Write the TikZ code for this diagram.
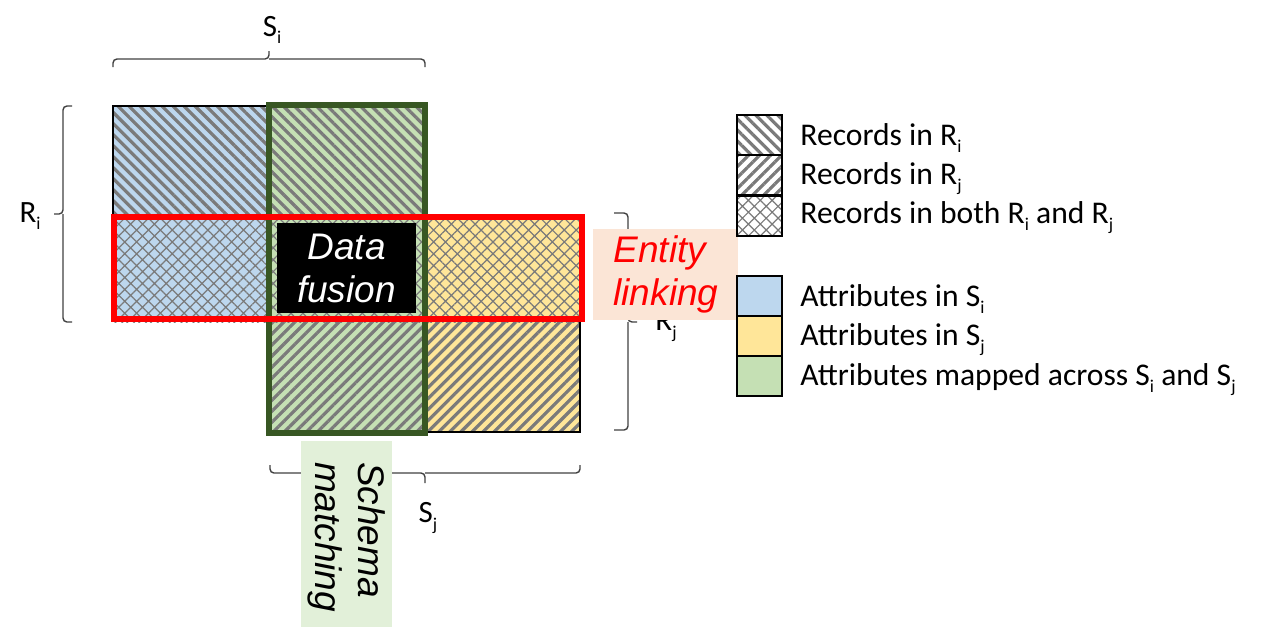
\documentclass[tikz,border=0pt]{standalone}
\usepackage{fontspec}
\setmainfont{Carlito}
\newfontfamily\arialfont{Liberation Sans}
\usetikzlibrary{patterns.meta}

\definecolor{attrblue}{HTML}{BDD7EE}
\definecolor{attryellow}{HTML}{FFE699}
\definecolor{attrgreen}{HTML}{C5E0B4}
\definecolor{schemagreen}{HTML}{385723}
\definecolor{linkpeach}{HTML}{FBE5D6}
\definecolor{matchgreen}{HTML}{E2F0D9}
\definecolor{bracegray}{HTML}{404040}
\definecolor{hatchgray}{HTML}{7A7A7A}

% low, small index as in R_i
\newcommand\lowidx[1]{\raisebox{-3.6pt}{\fontsize{9}{9}\selectfont #1}}

\tikzset{
  recI/.style={pattern={Lines[angle=-45,distance=3.9pt,line width=1.6pt]},pattern color=hatchgray},
  recJ/.style={pattern={Lines[angle=45,distance=3.9pt,line width=1.6pt]},pattern color=hatchgray},
  recIJ/.style={pattern={Hatch[angle=45,distance=4.2pt,line width=0.6pt]},pattern color=hatchgray},
  bracepath/.style={draw=bracegray,line width=0.7pt,rounded corners=2pt},
  dimlabel/.style={font=\fontsize{15.5}{18}\selectfont,inner sep=0pt},
  taskfont/.style={font=\arialfont\itshape\fontsize{18.5}{21.5}\selectfont},
  legbox/.style={draw=black,line width=1pt,minimum width=22.5pt,minimum height=20pt,inner sep=0pt},
  legtext/.style={anchor=base west,inner sep=0pt,font=\fontsize{15.8}{18}\selectfont}
}

\begin{document}
\begin{tikzpicture}[x=0.5pt,y=-0.5pt]
    \useasboundingbox (0,0) rectangle (1262,628);

    % attribute colours
    \fill[attrblue] (113,106) rectangle (268,322);
    \fill[attrgreen] (268,106) rectangle (425,432);
    \fill[attryellow] (425,215) rectangle (580,432);

    % record hatching
    \path[recI] (113,106) rectangle (425,215);
    \path[recIJ] (113,215) rectangle (580,322);
    \path[recJ] (268,322) rectangle (580,432);

    \draw[line width=0.8pt] (268,106) -- (113,106) -- (113,322);
    \draw[line width=0.8pt] (425,432) -- (580,432) -- (580,215);

    % braces and their labels
    \draw[bracepath] (113,67) -- (113,59) -- (269,59) -- (269,51);
    \draw[bracepath] (425,67) -- (425,59) -- (269,59);
    \draw[bracepath] (72,106) -- (63,106) -- (63,214) -- (54,214);
    \draw[bracepath] (72,322) -- (63,322) -- (63,214);
    \draw[bracepath] (614,213) -- (628,213) -- (628,322) -- (637,322);
    \draw[bracepath] (614,430) -- (628,430) -- (628,322);
    \draw[bracepath] (270,465) -- (270,473) -- (425,473) -- (425,483);
    \draw[bracepath] (580,465) -- (580,473) -- (425,473);
    \node[dimlabel] (Si) at (272,30) {S\lowidx{i}};
    \node[dimlabel] (Ri) at (30,216) {R\lowidx{i}};
    \node[dimlabel] (Rj) at (666,326) {R\lowidx{j}};
    \node[dimlabel] (Sj) at (428,518) {S\lowidx{j}};

    % the three tasks
    \draw[schemagreen,line width=2.75pt] (269,105) rectangle (425,433);
    \draw[red,line width=3pt] (113.5,216.5) rectangle (581.5,319);
    \node[taskfont,fill=black,text=white,align=center,minimum width=69.5pt,minimum height=45pt,inner sep=0pt]
        (fusion) at (346.5,268) {Data\\fusion};
    \node[taskfont,fill=linkpeach,text=red,align=left,text width=52pt,inner xsep=10.25pt,minimum height=45.5pt]
        (linking) at (665.5,274.5) {Entity\\linking};
    \node[taskfont,fill=matchgreen,rotate=-90,align=left,text width=72pt,inner xsep=10.5pt,minimum height=45.5pt]
        (matching) at (346.5,534) {Schema\\matching};

    % legend
    \node[legbox,recI] (legRi) at (759.5,135) {};
    \node[legbox,recJ] (legRj) at (759.5,175) {};
    \node[legbox,recIJ] (legRij) at (759.5,215.5) {};
    \node[legbox,fill=attrblue] (legSi) at (759.5,296) {};
    \node[legbox,fill=attryellow] (legSj) at (759.5,336) {};
    \node[legbox,fill=attrgreen] (legSij) at (759.5,376) {};
    \node[legtext] (legRiText) at (800,145) {Records in R\lowidx{i}};
    \node[legtext] (legRjText) at (800,184) {Records in R\lowidx{j}};
    \node[legtext] (legRijText) at (800,223) {Records in both R\lowidx{i} and R\lowidx{j}};
    \node[legtext] (legSiText) at (800,306) {Attributes in S\lowidx{i}};
    \node[legtext] (legSjText) at (800,345) {Attributes in S\lowidx{j}};
    \node[legtext] (legSijText) at (800,385) {Attributes mapped across S\lowidx{i} and S\lowidx{j}};
\end{tikzpicture}
\end{document}
